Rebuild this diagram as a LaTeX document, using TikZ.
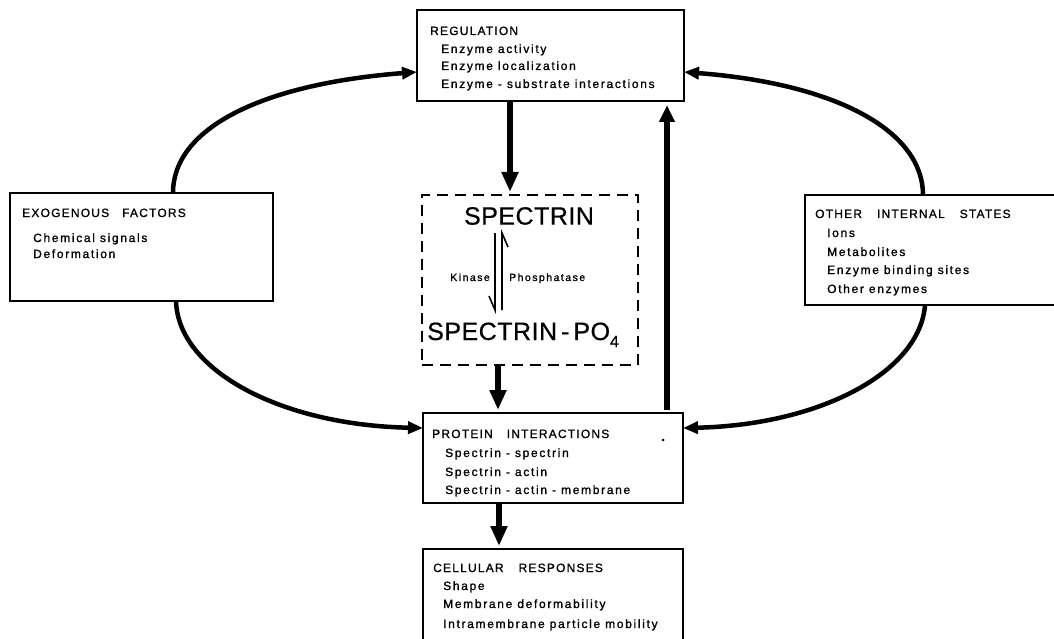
\documentclass[tikz,border=0pt]{standalone}
\usepackage{fontspec}
\setmainfont{Liberation Sans}
\newfontfamily\lblfont[LetterSpace=14, FakeBold=1.2]{Liberation Sans}
\newfontfamily\hdfont[LetterSpace=10, FakeBold=1.0]{Liberation Sans}
\newfontfamily\spfont[LetterSpace=2, FakeBold=0.6]{Liberation Sans}
\usetikzlibrary{arrows.meta}
\begin{document}
\begin{tikzpicture}[x=1pt,y=-1pt,
  box/.style={draw, line width=1.5pt, inner sep=0pt, outer sep=0pt, anchor=north west},
  dbox/.style={box, dash pattern=on 11pt off 7pt},
  hd/.style={anchor=base west, inner sep=0pt, font=\hdfont\fontsize{12}{14}\selectfont},
  it/.style={anchor=base west, inner sep=0pt, font=\lblfont\fontsize{12}{14}\selectfont},
  sm/.style={inner sep=0pt, font=\lblfont\fontsize{10.5}{12}\selectfont},
  bigt/.style={inner sep=0pt, font=\spfont\fontsize{25}{28}\selectfont},
  curv/.style={line width=4.5pt, -{Triangle[length=15pt,width=12pt]}},
  vert/.style={line width=6pt, -{Triangle[length=20pt,width=16pt]}},
  harp/.style={line width=1.6pt},
]
\useasboundingbox (0,0) rectangle (1054,639);
\clip (0,0) rectangle (1054,639);

% boxes
\node[box, minimum width=267pt, minimum height=91pt] (reg) at (417,10) {};
\node[box, minimum width=263pt, minimum height=108pt] (exo) at (10,193) {};
\node[box, minimum width=260pt, minimum height=110pt] (oth) at (805,195) {};
\node[dbox, minimum width=216pt, minimum height=170pt] (spec) at (422,195) {};
\node[box, minimum width=260pt, minimum height=90pt] (prot) at (423,413) {};
\node[box, minimum width=260pt, minimum height=110pt] (cell) at (423,549) {};

% regulation
\node[hd] (regh) at (430,35) {REGULATION};
\node[it] (reg1) at (441,53) {Enzyme activity};
\node[it] (reg2) at (441,70) {Enzyme localization};
\node[it] (reg3) at (441,88) {Enzyme - substrate interactions};

% exogenous
\node[hd] (exoh) at (22,217) {EXOGENOUS\hspace{13pt}FACTORS};
\node[it] (exo1) at (33,242) {Chemical signals};
\node[it] (exo2) at (33,258) {Deformation};

% other internal states
\node[hd] (othh) at (815,218) {OTHER\hspace{15pt}INTERNAL\hspace{15pt}STATES};
\node[it] (oth1) at (827,237) {Ions};
\node[it] (oth2) at (827,256) {Metabolites};
\node[it] (oth3) at (827,274) {Enzyme binding sites};
\node[it] (oth4) at (827,293) {Other enzymes};

% spectrin
\node[bigt] (sp1) at (529,216) {SPECTRIN};
\node[bigt, anchor=base west] (sp2) at (427,340) {SPECTRIN\hspace{4pt}-\hspace{4pt}PO\raisebox{-7pt}{\fontsize{16}{16}\selectfont 4}};
\coordinate (ka) at (495,233);
\coordinate (kb) at (495,310);
\coordinate (pa) at (502,310);
\coordinate (pb) at (502,233);
\draw[harp] (ka) -- (kb) -- ++(-6,-14);
\draw[harp] (pa) -- (pb) -- ++(6,14);
\node[sm, anchor=base east] (kin) at (490,281) {Kinase};
\node[sm, anchor=base west] (pho) at (509,281) {Phosphatase};

% protein interactions
\node[hd] (proth) at (432,438) {PROTEIN\hspace{14pt}INTERACTIONS};
\node[it] (prot1) at (445,457) {Spectrin - spectrin};
\node[it] (prot2) at (445,476) {Spectrin - actin};
\node[it] (prot3) at (445,494) {Spectrin - actin - membrane};
\fill (663,440) circle (1.5);

% cellular responses
\node[hd] (cellh) at (433,572) {CELLULAR\hspace{15pt}RESPONSES};
\node[it] (cell1) at (443,590) {Shape};
\node[it] (cell2) at (443,608) {Membrane deformability};
\node[it] (cell3) at (443,628) {Intramembrane particle mobility};

% curved connectors
\draw[curv] ([xshift=163pt]exo.north west) .. controls +(0,-65) and +(-155,12) .. ([yshift=-16.5pt]reg.west);
\draw[curv] ([xshift=118pt]oth.north west) .. controls +(0,-63) and +(155,12) .. ([yshift=-16.5pt]reg.east);
\draw[curv] ([xshift=166pt]exo.south west) .. controls +(2,69) and +(-143,-3) .. ([yshift=30pt]prot.west);
\draw[curv] ([xshift=120pt]oth.south west) .. controls +(-5,67) and +(137,-3) .. ([yshift=30pt]prot.east);

% vertical connectors
\draw[vert, shorten >=3pt] ([xshift=93pt]reg.south west) -- ([xshift=88pt]spec.north west);
\draw[vert, shorten >=3pt] ([xshift=76pt]spec.south west) -- ([xshift=75pt]prot.north west);
\draw[vert, shorten >=3pt] ([xshift=76pt]prot.south west) -- ([xshift=76pt]cell.north west);
\draw[line width=6pt, -{Triangle[length=17pt,width=15pt]}, shorten >=4pt, shorten <=3pt] ([xshift=244pt]prot.north west) -- ([xshift=250pt]reg.south west);
\end{tikzpicture}
\end{document}
